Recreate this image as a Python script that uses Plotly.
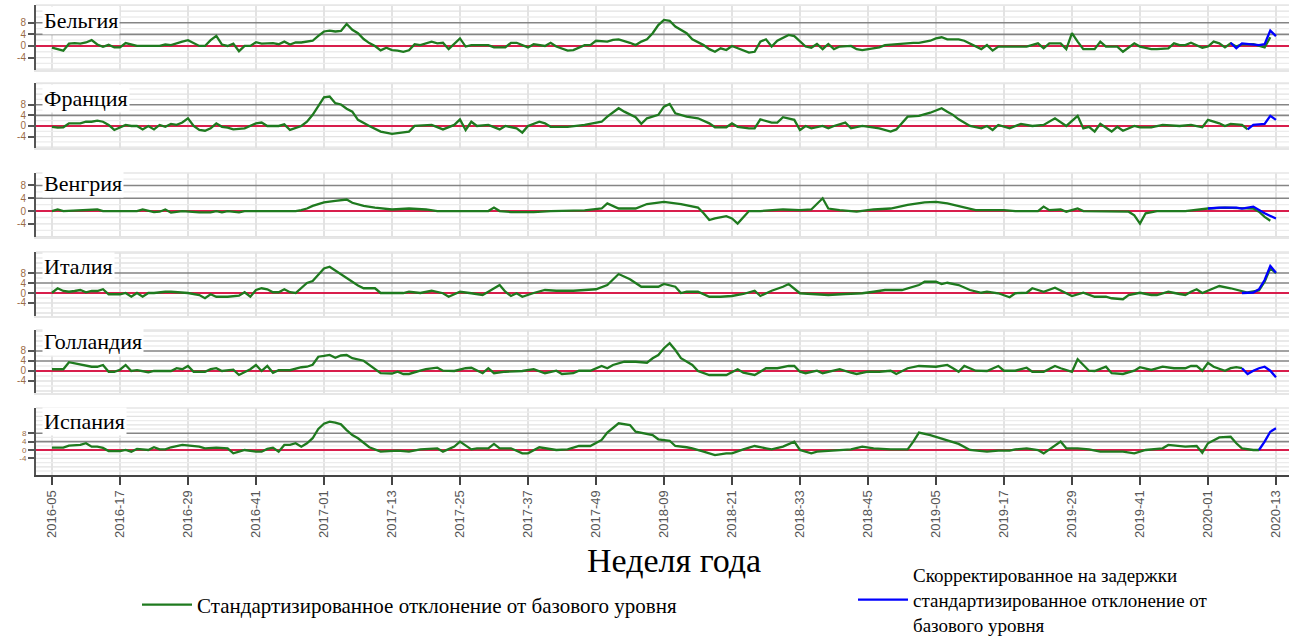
import plotly.graph_objects as go

# ---------------- data ----------------
TICK_LABELS = ["2016-05", "2016-17", "2016-29", "2016-41", "2017-01", "2017-13", "2017-25",
               "2017-37", "2017-49", "2018-09", "2018-21", "2018-33", "2018-45", "2019-05",
               "2019-17", "2019-29", "2019-41", "2020-01", "2020-13"]
TICK_WEEKS = [0, 12, 24, 36, 48, 60, 72, 84, 96, 108, 120, 132, 144, 156, 168, 180, 192, 204, 216]
Y_TICKS = [-4, 0, 4, 8]
Y_TICK_TEXT = ["-4", "0", "4", "8"]
THRESHOLDS = [4, 8]
COUNTRIES = ["Бельгия", "Франция", "Венгрия", "Италия", "Голландия", "Испания"]

# (week index since 2016-05, standardized deviation)
BE_STD = [(0, -0.6), (1, -1.2), (2, -1.6), (3, 0.8), (4, 1.0), (5, 0.8), (6, 1.2), (7, 2.0), (8, 0.5),
          (9, -0.3), (10, 0.4), (11, -0.5), (12, -0.5), (13, 1.0), (14, 0.6), (15, 0.0), (19, 0.0),
          (20, 0.5), (21, 0.3), (22, 1.0), (23, 1.5), (24, 2.0), (25, 1.0), (26, 0.0), (27, 0.0),
          (28, 2.0), (29, 3.5), (30, 0.5), (31, 0.0), (32, 0.8), (33, -1.8), (34, 0.0), (35, 0.0),
          (36, 1.3), (37, 0.8), (38, 0.8), (39, 1.0), (40, 0.6), (41, 1.5), (42, 0.5), (43, 1.2),
          (44, 1.2), (45, 1.5), (46, 1.8), (47, 3.5), (48, 5.0), (49, 5.3), (50, 5.0), (51, 5.2),
          (52, 7.6), (53, 5.6), (54, 4.4), (55, 2.4), (56, 1.0), (57, 0.0), (58, -1.5), (59, -0.6),
          (60, -1.4), (61, -1.6), (62, -2.0), (63, -1.5), (64, 0.6), (65, 0.3), (66, 0.9), (67, 1.5),
          (68, 0.9), (69, 1.1), (70, -1.1), (71, 0.9), (72, 2.6), (73, -0.2), (74, 0.3), (77, 0.3),
          (78, -0.5), (80, -0.5), (81, 1.1), (82, 1.1), (84, -0.5), (85, 0.6), (87, 0.0), (88, 1.1),
          (89, -0.2), (91, -1.6), (92, -1.4), (94, 0.3), (95, 0.3), (96, 1.8), (98, 1.5), (99, 2.1),
          (100, 2.3), (102, 1.1), (103, 0.3), (104, 1.5), (105, 2.3), (106, 4.4), (107, 7.2),
          (108, 9.0), (109, 8.7), (110, 6.7), (112, 4.4), (113, 2.3), (115, 0.3), (116, -1.1),
          (117, -2.0), (118, -0.8), (119, -1.4), (120, 0.0), (121, -0.8), (123, -2.3), (124, -2.0),
          (125, 1.5), (126, 2.3), (127, -0.2), (128, 1.8), (130, 3.8), (131, 3.4), (132, 1.5),
          (133, -0.2), (134, -0.6), (135, 0.7), (136, -1.1), (137, 0.7), (138, -1.1), (139, -0.2),
          (141, 0.0), (142, -1.1), (143, -1.4), (145, -0.8), (146, -0.5), (147, 0.3), (149, 0.7),
          (150, 0.7), (152, 1.1), (153, 1.1), (155, 1.8), (156, 2.6), (157, 3.0), (158, 2.3),
          (160, 2.3), (161, 1.8), (162, 0.9), (164, -1.1), (165, 0.3), (166, -1.6), (167, -0.2),
          (169, -0.2), (171, 0.0), (172, -0.2), (174, 0.9), (175, -0.8), (176, 0.9), (178, 0.9),
          (179, -1.1), (180, 4.4), (181, 1.5), (182, -1.1), (184, -1.1), (185, 1.5), (186, -0.2),
          (188, -0.2), (189, -2.0), (191, 0.9), (192, -0.2), (194, -1.1), (195, -1.1), (197, -0.8),
          (198, 0.9), (199, 0.3), (200, 0.3), (201, 1.1), (203, -0.6), (204, -0.2), (205, 1.5),
          (206, 0.9), (207, -0.5), (208, 0.9), (209, -0.2), (210, 0.6), (212, 0.6), (213, 0.0),
          (214, -0.5), (215, 3.0)]
BE_ADJ = [(208, 1.1), (209, -0.8), (210, 0.9), (211, 0.7), (213, 0.3), (214, 0.6), (215, 5.3), (216, 3.4)]

FR_STD = [(0, -0.3), (1, -0.6), (2, -0.5), (3, 1.0), (5, 1.0), (6, 1.6), (7, 1.6), (8, 2.0), (9, 1.6),
          (10, 0.4), (11, -1.5), (12, -0.6), (13, 0.4), (14, 0.0), (15, 0.0), (16, -1.3), (17, 0.0),
          (18, -1.3), (19, 0.4), (20, -0.3), (21, 0.8), (22, 0.4), (23, 1.3), (24, 2.9), (25, 0.0),
          (26, -1.5), (27, -1.8), (28, -0.9), (29, 1.0), (30, -0.3), (31, -0.6), (32, -1.3),
          (34, -0.9), (36, 1.0), (37, 1.3), (38, 0.0), (40, 0.0), (41, 0.6), (42, -1.5), (44, 0.0),
          (45, 1.6), (46, 4.2), (47, 7.3), (48, 10.8), (49, 11.1), (50, 8.6), (51, 8.1), (52, 6.5),
          (53, 5.4), (54, 2.3), (56, 0.0), (58, -2.1), (60, -3.0), (62, -2.5), (63, -2.1), (64, 0.0),
          (67, 0.4), (69, -1.3), (71, 0.4), (72, 2.5), (73, -1.5), (74, 1.6), (75, 0.0), (77, 0.4),
          (79, -1.3), (80, 0.0), (82, -0.9), (83, -2.5), (84, 0.0), (86, 1.6), (87, 1.0), (88, -0.3),
          (91, -0.3), (94, 0.4), (97, 1.6), (98, 3.5), (100, 6.7), (101, 5.4), (103, 3.3), (104, 0.8),
          (105, 2.9), (107, 4.2), (108, 7.3), (109, 8.3), (110, 4.8), (112, 3.5), (114, 2.9),
          (116, 1.0), (117, -0.5), (119, -0.5), (120, 1.0), (121, -0.3), (123, -0.9), (124, -0.9),
          (125, 2.5), (127, 1.3), (128, 1.3), (129, 3.3), (131, 2.3), (132, -1.5), (133, 0.0),
          (134, -0.9), (136, 0.0), (137, -0.9), (138, 0.0), (140, 1.3), (141, -0.9), (143, 0.0),
          (145, -0.5), (146, -0.9), (148, -2.1), (149, -1.3), (151, 3.5), (153, 3.8), (155, 5.0),
          (157, 6.7), (158, 5.4), (159, 4.2), (160, 2.5), (162, 0.0), (164, -0.9), (165, 0.0),
          (166, -1.5), (167, 0.4), (169, -0.9), (171, 0.8), (173, 0.0), (175, 0.4), (177, 2.9),
          (178, 1.3), (179, 0.0), (181, 3.8), (182, -0.9), (183, -0.3), (184, -2.1), (185, 0.8),
          (187, -2.1), (188, -0.3), (189, -1.8), (191, 0.0), (192, -0.5), (194, -0.5), (196, 0.4),
          (199, 0.0), (201, 0.4), (203, -0.5), (204, 2.3), (206, 1.0), (207, 0.0), (208, 0.8),
          (210, 0.4), (211, -1.3)]
FR_ADJ = [(211, -1.3), (212, 0.4), (214, 0.8), (215, 3.8), (216, 2.3)]

HU_STD = [(0, 0.0), (1, 0.5), (2, 0.0), (7, 0.5), (8, 0.5), (9, 0.0), (15, 0.0), (16, 0.5), (17, 0.0),
          (18, -0.3), (19, -0.2), (20, 0.5), (21, -0.5), (23, 0.0), (26, -0.4), (28, -0.4), (29, 0.0),
          (30, -0.4), (31, 0.0), (33, -0.4), (34, 0.0), (43, 0.0), (44, 0.3), (45, 0.8), (46, 1.6),
          (48, 2.7), (50, 3.2), (51, 3.4), (52, 3.6), (53, 2.6), (55, 1.6), (57, 1.1), (60, 0.5),
          (63, 0.8), (66, 0.5), (68, 0.0), (77, 0.0), (78, 1.1), (79, 0.0), (81, -0.3), (85, -0.3),
          (88, 0.0), (94, 0.2), (97, 0.8), (98, 2.4), (100, 0.8), (103, 0.8), (105, 2.2), (108, 2.9),
          (111, 2.2), (114, 1.1), (115, -0.7), (116, -2.8), (117, -2.3), (119, -1.6), (120, -2.3),
          (121, -3.9), (123, 0.0), (125, 0.0), (129, 0.5), (132, 0.3), (134, 0.5), (136, 4.0),
          (137, 0.8), (139, 0.3), (142, -0.2), (145, 0.5), (148, 0.8), (151, 1.9), (154, 2.7),
          (156, 2.9), (158, 2.4), (161, 1.1), (163, 0.3), (168, 0.3), (170, 0.0), (174, 0.0),
          (175, 1.4), (176, 0.3), (178, 0.5), (179, -0.2), (181, 0.8), (182, 0.0), (187, -0.2),
          (190, -0.2), (191, -1.3), (192, -3.9), (193, -0.7), (195, 0.0), (200, 0.0), (202, 0.5),
          (204, 0.8), (207, 1.1), (210, 0.8), (212, 0.8), (213, -0.2), (214, -1.8), (215, -3.0)]
HU_ADJ = [(204, 0.8), (206, 1.1), (209, 1.1), (210, 0.8), (212, 1.4), (213, 0.3), (214, -0.7), (216, -2.3)]

IT_STD = [(0, 0.1), (1, 1.9), (2, 0.8), (3, 0.5), (4, 0.8), (5, 1.2), (6, 0.3), (7, 0.8), (8, 0.8),
          (9, 1.5), (10, -0.5), (12, -0.5), (13, 0.0), (14, -1.5), (15, 0.0), (16, -1.5), (17, 0.0),
          (18, 0.0), (20, 0.5), (21, 0.5), (24, 0.0), (26, -0.8), (27, -2.1), (28, -0.5), (29, -1.5),
          (31, -1.5), (33, -1.1), (34, 0.3), (35, -1.5), (36, 1.2), (37, 1.9), (38, 1.5), (39, 0.3),
          (40, 0.3), (41, 1.5), (42, 0.3), (43, 0.0), (44, 2.0), (45, 4.0), (46, 4.8), (47, 7.5),
          (48, 9.8), (49, 10.5), (50, 9.0), (51, 7.5), (52, 6.2), (53, 4.8), (54, 3.0), (55, 1.9),
          (57, 1.9), (58, 0.0), (60, -0.1), (62, 0.0), (63, 0.5), (65, 0.0), (67, 0.9), (69, -0.1),
          (70, -1.5), (72, 0.5), (74, -0.1), (76, -0.8), (77, 0.5), (79, 3.2), (80, 0.5), (81, -1.2),
          (82, -0.1), (83, -1.5), (85, 0.0), (87, 1.2), (89, 0.9), (92, 0.9), (96, 1.5), (98, 3.2),
          (100, 7.6), (102, 5.5), (104, 2.5), (107, 2.5), (108, 3.6), (110, 2.5), (111, 0.0),
          (112, 0.5), (114, 0.5), (116, -1.5), (118, -1.5), (120, -1.2), (122, -0.4), (124, 0.9),
          (125, -1.2), (127, 0.9), (129, 2.5), (130, 3.6), (132, -0.1), (134, -0.4), (137, -0.8),
          (140, -0.4), (143, -0.1), (145, 0.5), (147, 1.2), (150, 1.2), (153, 3.2), (154, 4.5),
          (156, 4.5), (157, 3.6), (158, 4.1), (160, 3.2), (162, 1.2), (164, 0.1), (165, 0.5),
          (167, -0.1), (169, -1.7), (170, -0.1), (172, 0.1), (173, 1.9), (175, 0.5), (177, 2.1),
          (179, -0.1), (180, -1.2), (182, 0.1), (184, -1.5), (186, -1.5), (187, -2.1), (189, -2.5),
          (190, -0.8), (192, 0.1), (194, -0.8), (195, -0.8), (196, 0.0), (197, 0.5), (199, -0.4),
          (200, -0.8), (201, 0.5), (202, 1.5), (203, 0.0), (205, 1.9), (206, 2.8), (208, 1.9),
          (210, 0.8), (211, 0.2), (213, 1.0), (214, 4.5), (215, 9.9), (216, 7.9)]
IT_ADJ = [(210, 0.0), (212, 0.2), (213, 1.5), (214, 5.2), (215, 10.8), (216, 8.1)]

NL_STD = [(0, 0.7), (2, 0.7), (3, 3.5), (4, 3.1), (5, 2.4), (6, 2.0), (7, 1.7), (8, 1.7), (9, 2.4),
          (10, -0.3), (11, -0.3), (12, 0.5), (13, 2.4), (14, 0.0), (15, 0.3), (17, -0.5), (18, 0.0),
          (21, 0.0), (22, 1.1), (23, 0.7), (24, 2.0), (25, -0.3), (27, -0.3), (28, 0.7), (29, 1.1),
          (30, 0.0), (32, 0.5), (33, -1.6), (34, -0.3), (35, 0.7), (36, 2.4), (37, 0.0), (38, 2.0),
          (39, -0.7), (40, 0.3), (42, 0.3), (44, 1.5), (45, 1.7), (46, 2.5), (47, 5.7), (48, 6.0),
          (49, 6.4), (50, 5.3), (51, 6.2), (52, 6.4), (53, 5.1), (55, 4.1), (56, 2.4), (58, -0.9),
          (60, -1.0), (61, -0.3), (62, -1.2), (63, -1.2), (65, 0.1), (66, 0.7), (68, 1.3), (69, 0.1),
          (71, 0.0), (73, 1.1), (74, 1.3), (76, -0.9), (77, 1.1), (78, -0.9), (80, -0.3), (83, 0.0),
          (85, 0.7), (87, -0.9), (89, 0.1), (90, -1.2), (92, -0.9), (93, 0.1), (95, 0.1), (97, 2.0),
          (98, 1.1), (99, 2.4), (101, 3.7), (103, 3.7), (105, 3.3), (106, 5.1), (107, 6.4),
          (108, 9.1), (109, 11.1), (110, 8.4), (111, 5.1), (113, 2.4), (114, 0.0), (116, -1.6),
          (119, -1.6), (121, 0.7), (122, -0.7), (124, -1.6), (125, -0.3), (126, 1.1), (128, 1.1),
          (130, 2.0), (131, 2.0), (132, -0.3), (133, -0.9), (135, 0.1), (136, -0.9), (138, 0.1),
          (139, 0.7), (141, -0.7), (142, -1.2), (144, -0.3), (146, -0.3), (148, 0.1), (149, -1.2),
          (151, 1.1), (153, 2.0), (156, 1.7), (158, 2.4), (159, 1.1), (160, -0.3), (161, 2.0),
          (163, 0.1), (165, 0.0), (167, 2.0), (168, 0.1), (170, 0.1), (172, 1.3), (173, -0.3),
          (175, -0.3), (177, 2.0), (178, 1.1), (180, -0.3), (181, 4.7), (183, 0.1), (184, 0.0),
          (186, 1.7), (187, -0.9), (189, -1.2), (191, 0.1), (192, 1.5), (194, 0.4), (196, 1.7),
          (198, 1.1), (200, 1.1), (201, 2.0), (202, 2.0), (203, 0.1), (204, 3.3), (205, 1.7),
          (207, 0.1), (208, 1.1), (209, 1.5), (210, 1.1)]
NL_ADJ = [(210, 1.1), (211, -1.2), (212, 0.1), (213, 1.1), (214, 1.7), (215, 0.1), (216, -2.5)]

ES_STD = [(0, 1.1), (2, 1.1), (3, 2.1), (5, 2.4), (6, 3.2), (7, 1.6), (8, 1.6), (9, 1.0), (10, -0.5),
          (12, -0.5), (13, 0.0), (14, -0.8), (15, 0.5), (17, 0.0), (18, 1.3), (19, 0.3), (20, 0.3),
          (21, 1.3), (23, 2.4), (24, 2.1), (26, 1.6), (27, 0.8), (29, 1.1), (31, 0.8), (32, -1.6),
          (33, -0.8), (34, 0.0), (36, -0.8), (37, -0.8), (38, 0.5), (39, 1.1), (40, -0.8), (41, 2.4),
          (42, 2.4), (43, 3.2), (44, 1.6), (45, 3.2), (46, 5.6), (47, 10.0), (48, 12.5), (49, 13.5),
          (50, 13.0), (51, 12.2), (52, 9.5), (53, 7.1), (54, 5.6), (56, 1.3), (58, -0.8), (61, -0.3),
          (63, -0.8), (65, 0.3), (68, 0.8), (69, -0.8), (71, 1.6), (72, 4.0), (74, 0.3), (75, 0.8),
          (77, 0.8), (78, 2.9), (79, 0.8), (81, 0.8), (83, -1.6), (84, -1.6), (86, 1.3), (88, 0.3),
          (89, 0.0), (91, 0.3), (93, 1.9), (95, 1.9), (97, 4.8), (98, 8.3), (100, 12.7), (102, 11.9),
          (103, 8.7), (106, 7.1), (107, 5.1), (109, 4.4), (110, 1.9), (112, 1.3), (113, 0.8),
          (115, -0.8), (117, -2.4), (119, -1.6), (120, -1.6), (122, 0.3), (124, 1.9), (126, 0.8),
          (127, 0.3), (129, 1.6), (131, 4.0), (132, 0.0), (134, -1.6), (135, -0.8), (138, -0.3),
          (141, 0.3), (143, 1.6), (145, 0.8), (148, 0.3), (151, 0.3), (152, 4.0), (153, 8.3),
          (155, 7.1), (156, 6.3), (158, 4.8), (160, 2.9), (162, 0.0), (165, -0.8), (167, -0.3),
          (169, -0.3), (170, 0.3), (172, 0.8), (174, 0.0), (175, -1.6), (178, 4.0), (179, 0.8),
          (181, 0.8), (183, 0.3), (185, -0.8), (187, -0.8), (189, -0.8), (191, -1.6), (193, 0.0),
          (196, 0.8), (197, 2.4), (200, 1.6), (202, 1.9), (203, -1.3), (204, 3.2), (206, 6.0),
          (207, 6.2), (208, 6.3), (209, 3.2), (210, 0.8), (212, 0.0), (213, 0.0)]
ES_ADJ = [(213, 0.0), (214, 4.0), (215, 8.7), (216, 10.3)]

STD_SERIES = [BE_STD, FR_STD, HU_STD, IT_STD, NL_STD, ES_STD]
ADJ_SERIES = [BE_ADJ, FR_ADJ, HU_ADJ, IT_ADJ, NL_ADJ, ES_ADJ]

LEGEND_STD = "Стандартизированное отклонение от базового уровня"
LEGEND_ADJ = "Скорректированное на задержки<br>стандартизированное отклонение от<br>базового уровня"
X_TITLE = "Неделя года"

# ---------------- layout / style ----------------
W, H = 1289, 639
PANEL_DOMAINS = [(0.8905, 0.9922), (0.7684, 0.8701), (0.6291, 0.7293),
                 (0.5055, 0.6056), (0.3850, 0.4836), (0.2567, 0.3615)]
PANEL_YRANGES = [(-8.28, 14.14), (-8.3, 16.2), (-8.1, 11.9),
                 (-9.2, 16.4), (-8.8, 16.4), (-11.9, 20.0)]
TICK_FONT_SIZES = [10, 10, 10, 10, 10, 8]
TITLE_Y_PX = [20, 98, 183, 266, 342, 421]
X_DOMAIN = [36 / W, 1.0]
X_RANGE = [-2.82, 218.3]
GRID_LEVELS = [-12, -10, -8, -6, -4, -2, 2, 6, 10, 12, 14, 16, 18]

GREEN = "#1f7a1f"
BLUE = "#0000ff"
RED = "#d81e4c"
SERIF = "Liberation Serif"
SANS = "Liberation Sans"

fig = go.Figure()
layout = dict(
    width=W, height=H,
    margin=dict(l=0, r=0, t=0, b=0, autoexpand=False),
    paper_bgcolor="white", plot_bgcolor="white",
    showlegend=True,
    legend=dict(x=137 / W, xanchor="left", y=1 - 605 / H, yanchor="middle",
                font=dict(family=SERIF, size=21, color="black"), itemwidth=50,
                valign="middle", bgcolor="rgba(0,0,0,0)"),
    legend2=dict(x=853 / W, xanchor="left", y=1 - 600 / H, yanchor="middle",
                 font=dict(family=SERIF, size=19, color="black"), itemwidth=50,
                 valign="middle", bgcolor="rgba(0,0,0,0)"),
)
shapes = []
annotations = []

for i in range(6):
    k = i + 1
    sx = "" if k == 1 else str(k)
    xa, ya = "x" + sx, "y" + sx
    std = STD_SERIES[i]
    adj = ADJ_SERIES[i]
    fig.add_trace(go.Scatter(
        x=[p[0] for p in std], y=[p[1] for p in std], mode="lines",
        line=dict(color=GREEN, width=2.3), name=LEGEND_STD, legendgroup="std",
        legend="legend", showlegend=(k == 1), xaxis=xa, yaxis=ya, hoverinfo="skip"))
    fig.add_trace(go.Scatter(
        x=[p[0] for p in adj], y=[p[1] for p in adj], mode="lines",
        line=dict(color=BLUE, width=2.3), name=LEGEND_ADJ, legendgroup="adj",
        legend="legend2", showlegend=(k == 1), xaxis=xa, yaxis=ya, hoverinfo="skip"))

    bottom = (k == 6)
    xaxis = dict(
        domain=X_DOMAIN, range=X_RANGE, anchor=ya,
        tickmode="array", tickvals=TICK_WEEKS, ticktext=TICK_LABELS,
        showticklabels=bottom, ticks="outside" if bottom else "",
        ticklen=8, tickwidth=1.5, tickcolor="#444", tickangle=-90,
        tickfont=dict(family=SANS, size=13, color="#555"),
        showgrid=False, zeroline=False, automargin=False,
        showline=True, linecolor="#444" if bottom else "#e6e6e6",
        linewidth=2 if bottom else 1.5, fixedrange=True)
    if k > 1:
        xaxis["matches"] = "x"
    layout["xaxis" + sx] = xaxis
    layout["yaxis" + sx] = dict(
        domain=list(PANEL_DOMAINS[i]), range=list(PANEL_YRANGES[i]), anchor=xa,
        tickmode="array", tickvals=Y_TICKS, ticktext=Y_TICK_TEXT,
        ticks="outside", ticklen=6, tickwidth=1.5, tickcolor="#555",
        tickfont=dict(family=SANS, size=TICK_FONT_SIZES[i], color="#9a6b45"),
        showgrid=False, zeroline=False, automargin=False,
        showline=True, linecolor="#555", linewidth=2, fixedrange=True)

    xdom = xa + " domain"
    ydom = ya + " domain"
    lo, hi = PANEL_YRANGES[i]
    # light grid (drawn first, under everything)
    for wk in TICK_WEEKS:
        shapes.append(dict(type="line", xref=xa, yref=ydom, x0=wk, x1=wk, y0=0, y1=1,
                           line=dict(color="#e3e3e3", width=2), layer="below"))
    for g in GRID_LEVELS:
        if lo < g < hi:
            shapes.append(dict(type="line", xref=xdom, yref=ya, x0=0, x1=1, y0=g, y1=g,
                               line=dict(color="#e2e2e2" if g % 4 == 0 else "#ececec", width=1.3),
                               layer="below"))
    shapes.append(dict(type="line", xref=xdom, yref=ydom, x0=0, x1=1, y0=1, y1=1,
                       line=dict(color="#e6e6e6", width=1.5), layer="below"))
    # reference levels
    for t in THRESHOLDS:
        shapes.append(dict(type="line", xref=xdom, yref=ya, x0=0, x1=1, y0=t, y1=t,
                           line=dict(color="#858585", width=1.6), layer="below"))
    shapes.append(dict(type="line", xref=xdom, yref=ya, x0=0, x1=1, y0=0, y1=0,
                       line=dict(color=RED, width=2), layer="below"))

    annotations.append(dict(
        text=COUNTRIES[i], xref="paper", yref="paper", x=42 / W, xanchor="left",
        y=1 - TITLE_Y_PX[i] / H, yanchor="middle", showarrow=False,
        font=dict(family=SERIF, size=22, color="black"),
        bgcolor="white", borderpad=1))

annotations.append(dict(
    text=X_TITLE, xref="paper", yref="paper", x=674 / W, xanchor="center",
    y=1 - 560 / H, yanchor="middle", showarrow=False,
    font=dict(family=SERIF, size=34, color="black")))

layout["shapes"] = shapes
layout["annotations"] = annotations
fig.update_layout(**layout)

fig.write_html("out.html", config={"displayModeBar": False},
               post_script="document.body.style.margin='0';document.body.style.overflow='hidden';")
